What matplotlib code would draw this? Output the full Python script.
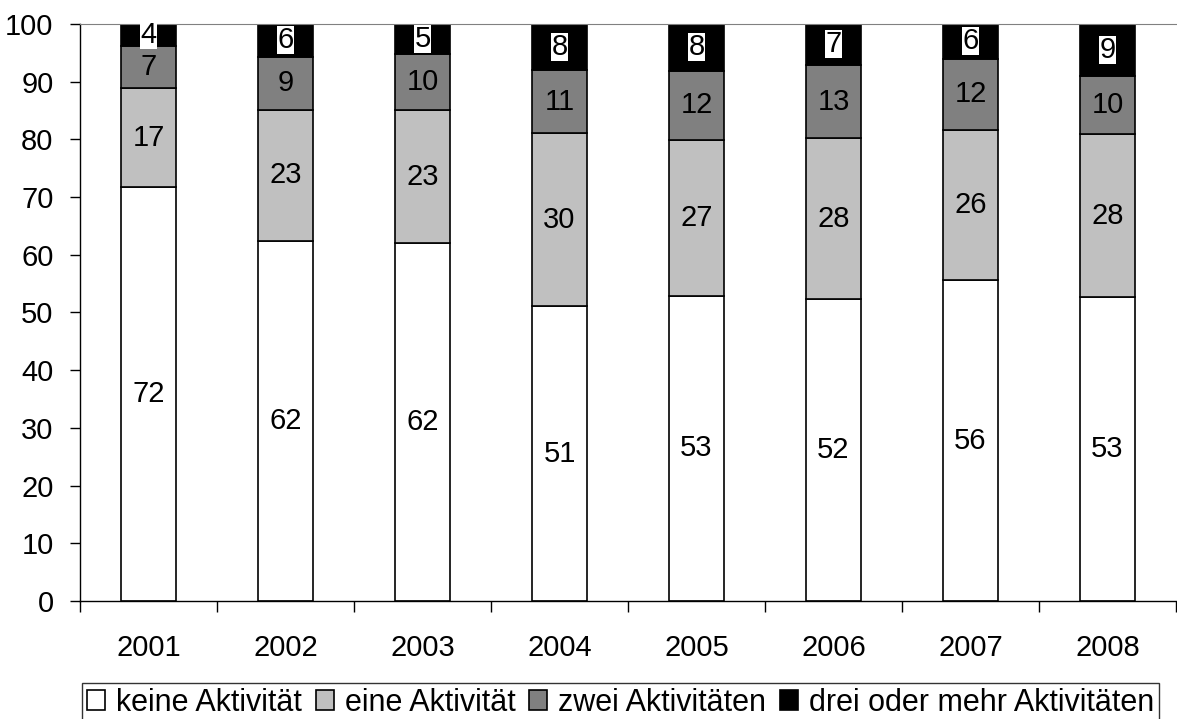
import numpy as np
import matplotlib
matplotlib.use("Agg")
import matplotlib.pyplot as plt

plt.rcParams['font.family'] = ['Liberation Sans', 'DejaVu Sans']

years = ["2001", "2002", "2003", "2004", "2005", "2006", "2007", "2008"]
# shares in percent
keine = [71.7, 62.4, 62.0, 51.1, 52.9, 52.3, 55.6, 52.7]
eine = [17.2, 22.7, 23.1, 30.0, 27.0, 27.9, 26.1, 28.2]
zwei = [7.3, 9.2, 9.7, 10.9, 12.0, 12.7, 12.2, 10.1]
drei = [3.8, 5.7, 5.2, 8.0, 8.1, 7.1, 6.2, 9.0]

series = [keine, eine, zwei, drei]
names = ["keine Aktivität", "eine Aktivität", "zwei Aktivitäten", "drei oder mehr Aktivitäten"]
colors = ["white", "#c0c0c0", "#808080", "black"]

fig = plt.figure(figsize=(11.77, 7.19), dpi=100)
ax = fig.add_axes([80/1177, 1-601/719, 1096/1177, 577/719])

x = np.arange(len(years))
bottom = np.zeros(len(years))
for vals, name, col in zip(series, names, colors):
    vals = np.array(vals)
    ax.bar(x, vals, width=0.4, bottom=bottom, color=col, edgecolor="black",
           linewidth=1.2, label=name, zorder=2)
    for xi, b, v in zip(x, bottom, vals):
        if col == "black":
            # label on black segment gets a white box
            ax.text(xi, b + v/2, "%.0f" % v, ha="center", va="center", fontsize=21,
                    color="black", zorder=3,
                    bbox=dict(facecolor="white", edgecolor="none", pad=0))
        else:
            ax.text(xi, b + v/2, "%.0f" % v, ha="center", va="center", fontsize=21,
                    color="black", zorder=3)
    bottom = bottom + vals

ax.set_xlim(-0.5, len(years) - 0.5)
ax.set_ylim(0, 100)
ax.set_yticks(np.arange(0, 101, 10))
ax.set_xticks(x)
ax.set_xticklabels(years)
ax.set_xticks(np.arange(-0.5, len(years), 1), minor=True)
ax.tick_params(axis="x", which="major", length=0, pad=24, labelsize=21)
ax.tick_params(axis="x", which="minor", length=8, width=1, direction="out")
ax.tick_params(axis="y", length=7, width=1, direction="out", pad=12, labelsize=21)

ax.spines["right"].set_visible(False)
ax.spines["top"].set_color("#808080")
ax.spines["left"].set_linewidth(1)
ax.spines["bottom"].set_linewidth(1)

leg = fig.legend(loc="upper center", bbox_to_anchor=(620.5/1177, 1-683/719), ncol=4,
                 fontsize=22, frameon=True, fancybox=False, edgecolor="black",
                 handlelength=0.6, handleheight=0.6, handletextpad=0.35,
                 columnspacing=0.45, borderpad=0.15, borderaxespad=0)
leg.get_frame().set_linewidth(1)

fig.savefig("out.png", dpi=100)
